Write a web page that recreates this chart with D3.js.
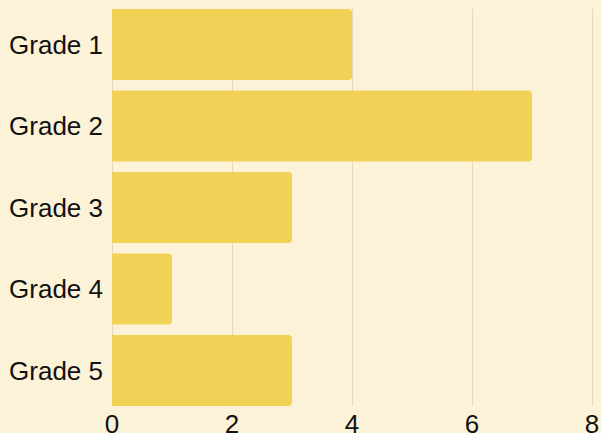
<!DOCTYPE html>
<html>
<head>
<meta charset="utf-8">
<script src="https://cdn.jsdelivr.net/npm/d3@7"></script>
<style>
  body { margin: 0; background: #fcf2d7; }
  svg { display: block; }
</style>
</head>
<body>
<div id="chart"></div>
<script>
const categories = ["Grade 1", "Grade 2", "Grade 3", "Grade 4", "Grade 5"];
const values = [4, 7, 3, 1, 3];
const xTicks = [0, 2, 4, 6, 8];

const w = 601, h = 433;
const left = 112, right = 592;

const svg = d3.select("#chart").append("svg")
  .attr("width", w)
  .attr("height", h);

svg.append("rect").attr("width", w).attr("height", h).attr("fill", "#fcf2d7");

const x = d3.scaleLinear().domain([0, 8]).range([left, right]);
const y = d3.scaleBand().domain(categories).range([3.7, 411.2])
  .paddingInner(0.13).paddingOuter(0.065);

const gridTop = y(categories[0]), gridBottom = y(categories[4]) + y.bandwidth();

// grid lines
svg.append("g")
  .selectAll("line")
  .data(xTicks)
  .join("line")
  .attr("x1", d => x(d) + 0.5)
  .attr("x2", d => x(d) + 0.5)
  .attr("y1", gridTop)
  .attr("y2", gridBottom)
  .attr("stroke", "#e3d8bb")
  .attr("stroke-width", 1);

// bars: square on the left, rounded on the right
const r = 4;
function barPath(d, i) {
  const x0 = x(0), x1 = x(d), y0 = y(categories[i]), y1 = y0 + y.bandwidth();
  return `M${x0},${y0}H${x1 - r}Q${x1},${y0} ${x1},${y0 + r}V${y1 - r}Q${x1},${y1} ${x1 - r},${y1}H${x0}Z`;
}
svg.append("g")
  .selectAll("path")
  .data(values)
  .join("path")
  .attr("d", barPath)
  .attr("fill", "#f2d157");

// x tick labels
svg.append("g")
  .selectAll("text")
  .data(xTicks)
  .join("text")
  .attr("x", d => x(d))
  .attr("y", 433)
  .attr("text-anchor", "middle")
  .attr("font-family", "Liberation Sans, Arial, sans-serif")
  .attr("font-size", 26)
  .attr("fill", "#111")
  .text(d => d);

// category labels
svg.append("g")
  .selectAll("text")
  .data(categories)
  .join("text")
  .attr("x", 103)
  .attr("y", d => y(d) + y.bandwidth() / 2)
  .attr("dy", "0.35em")
  .attr("text-anchor", "end")
  .attr("font-family", "Liberation Sans, Arial, sans-serif")
  .attr("font-size", 26)
  .attr("fill", "#111")
  .text(d => d);
</script>
</body>
</html>
